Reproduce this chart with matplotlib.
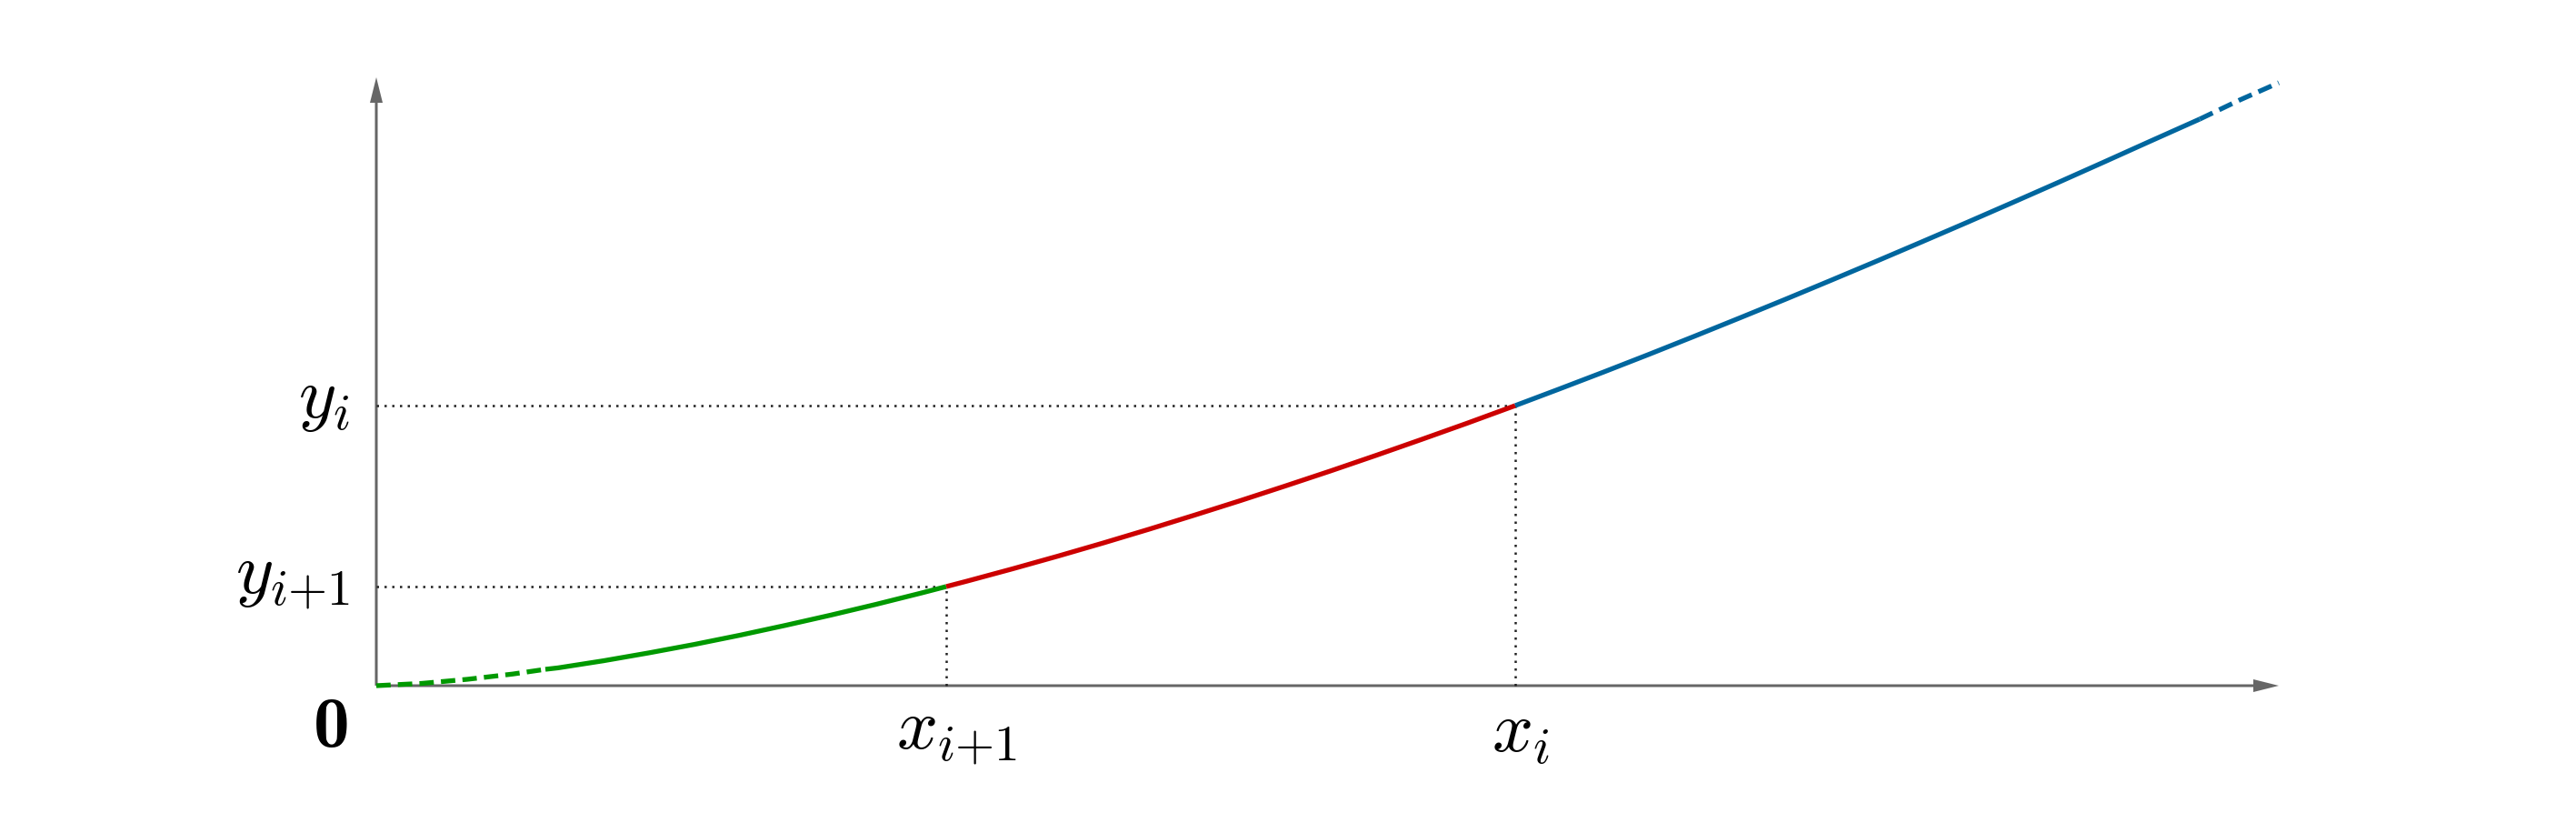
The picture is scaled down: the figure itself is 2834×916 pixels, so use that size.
import numpy as np
import matplotlib
matplotlib.use("Agg")
import matplotlib.pyplot as plt
from matplotlib.font_manager import FontProperties

plt.rcParams["mathtext.fontset"] = "cm"

# ---- curve (data units = 100 px from origin) ----
curve_x = [0.0, 0.5, 1.0, 1.5, 1.86, 2.0, 2.5, 3.0, 3.5, 4.0, 4.5, 5.0, 5.5, 6.0,
           6.27, 6.5, 7.0, 7.5, 8.0, 8.5, 9.0, 9.5, 10.0, 10.5, 11.0, 11.5, 12.0,
           12.53, 13.0, 13.5, 14.0, 14.5, 15.0, 15.5, 16.0, 16.5, 17.0, 17.5,
           18.0, 18.5, 19.0, 19.5, 20.06, 20.5, 20.93]
curve_y = [0.0, 0.025, 0.07, 0.128, 0.18, 0.196, 0.274, 0.361, 0.454, 0.555,
           0.663, 0.776, 0.895, 1.02, 1.09, 1.15, 1.285, 1.425, 1.57, 1.72,
           1.875, 2.033, 2.196, 2.362, 2.533, 2.708, 2.886, 3.08, 3.257, 3.448,
           3.643, 3.842, 4.044, 4.248, 4.456, 4.666, 4.879, 5.094, 5.312,
           5.532, 5.755, 5.98, 6.23, 6.44, 6.63]

# marked points
x_i1, y_i1 = 6.27, 1.09
x_i, y_i = 12.53, 3.08

# where the dashed ends stop / start
green_dash_end = 1.86
blue_dash_start = 20.06

x_axis_end = 20.93
y_axis_end = 6.69

GREEN = "#009900"
RED = "#cc0000"
BLUE = "#00669e"
AXIS = "#666666"

cx = np.array(curve_x)
cy = np.array(curve_y)


def segment(lo, hi):
    m = (cx >= lo - 1e-9) & (cx <= hi + 1e-9)
    return cx[m], cy[m]


fig = plt.figure(figsize=(28.34, 9.16), dpi=100)
ax = fig.add_axes([0, 0, 1, 1])
ax.set_xlim(-4.14, 24.20)
ax.set_ylim(-1.62, 7.54)
ax.axis("off")

lw = 3.8
dash = (3.0, 1.5)

# green part
sx, sy = segment(0, green_dash_end)
ax.plot(sx, sy, color=GREEN, lw=lw, linestyle=(0, dash), solid_capstyle="butt", zorder=3)
sx, sy = segment(green_dash_end, x_i1)
ax.plot(sx, sy, color=GREEN, lw=lw, solid_capstyle="butt", zorder=3)
# red part
sx, sy = segment(x_i1, x_i)
ax.plot(sx, sy, color=RED, lw=lw, solid_capstyle="butt", zorder=3)
# blue part
sx, sy = segment(x_i, blue_dash_start)
ax.plot(sx, sy, color=BLUE, lw=lw, solid_capstyle="butt", zorder=3)
sx, sy = segment(blue_dash_start, x_axis_end)
ax.plot(sx, sy, color=BLUE, lw=lw, linestyle=(0, dash), solid_capstyle="butt", zorder=3)

# dotted guides
dot = (0, (1, 2.4))
for px, py in [(x_i1, y_i1), (x_i, y_i)]:
    ax.plot([0, px], [py, py], color="#222222", lw=1.8, linestyle=dot, zorder=2)
    ax.plot([px, px], [0, py], color="#222222", lw=1.8, linestyle=dot, zorder=2)

# axes with arrow heads
ax.arrow(0, 0, x_axis_end, 0, width=0.03, head_width=0.14, head_length=0.28,
         length_includes_head=True, color=AXIS, lw=0, zorder=1)
ax.arrow(0, 0, 0, y_axis_end, width=0.03, head_width=0.14, head_length=0.28,
         length_includes_head=True, color=AXIS, lw=0, zorder=1)

fs = 57
bold = FontProperties(fname=matplotlib.get_data_path() + "/fonts/ttf/cmb10.ttf", size=fs)
ax.text(-0.49, -0.48, "0", fontproperties=bold, ha="center", va="center")
ax.text(-0.29, 3.15, r"$y_i$", fontsize=fs, ha="right", va="center")
ax.text(-0.29, 1.20, r"$y_{i{+}1}$", fontsize=fs, ha="right", va="center")
ax.text(6.38, -0.51, r"$x_{i{+}1}$", fontsize=fs, ha="center", va="center")
ax.text(12.59, -0.51, r"$x_i$", fontsize=fs, ha="center", va="center")

fig.savefig("out.png", dpi=100)
